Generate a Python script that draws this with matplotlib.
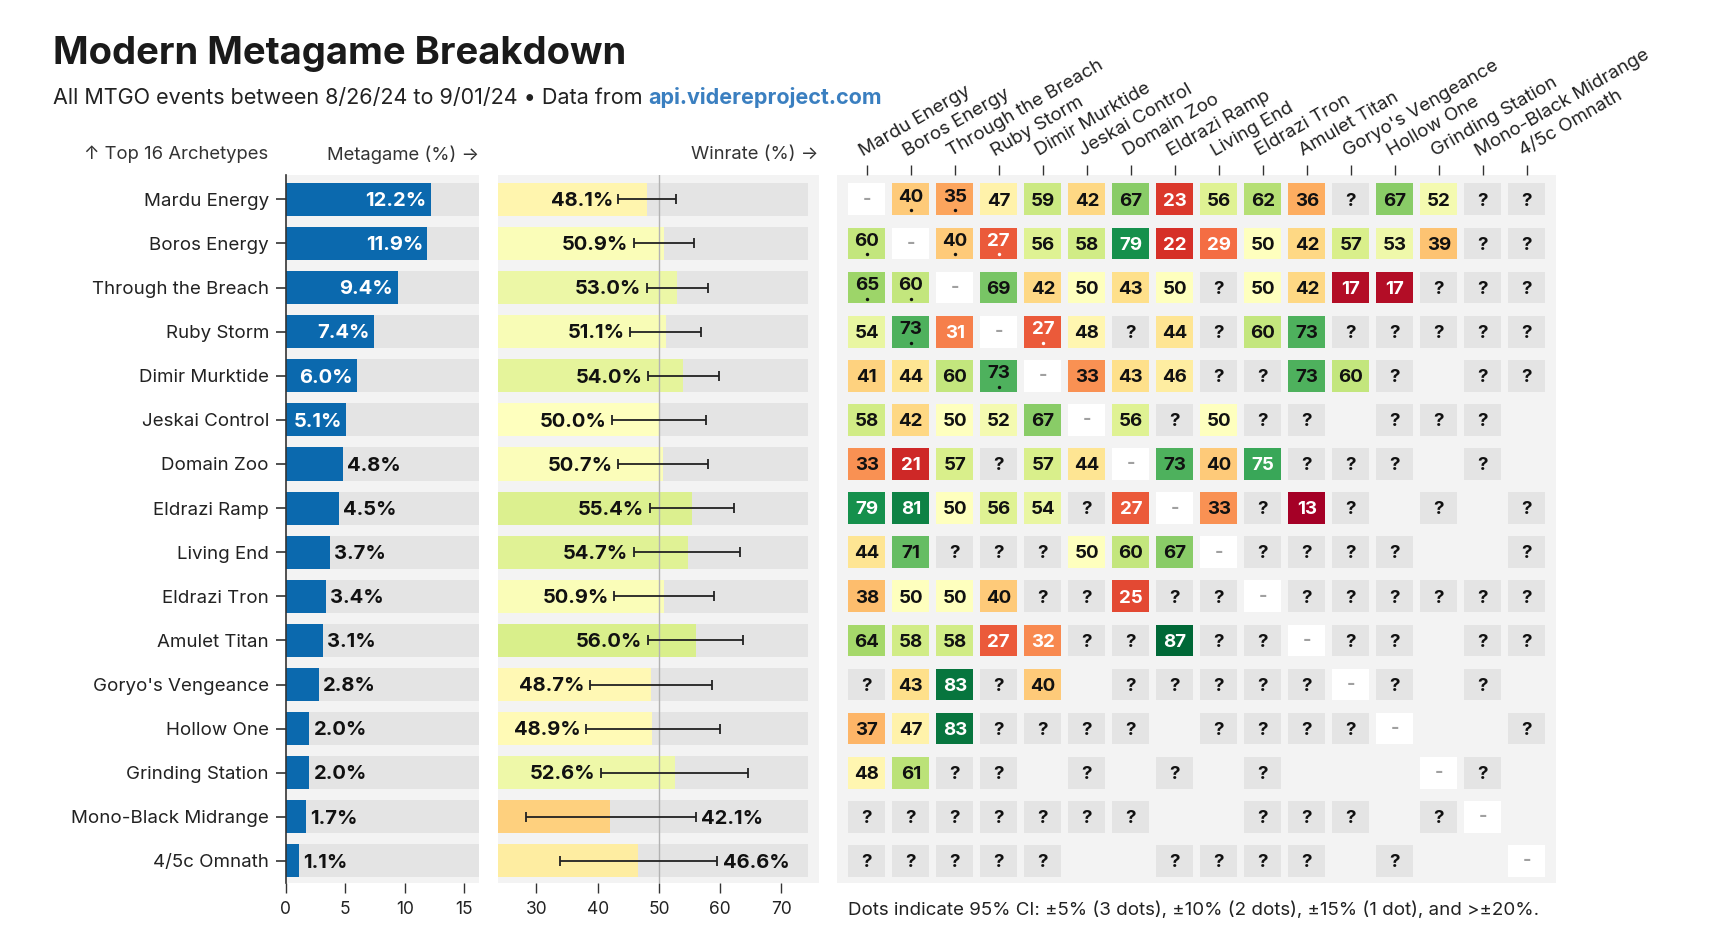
import matplotlib
matplotlib.use('Agg')
import matplotlib.pyplot as plt
import numpy as np
from matplotlib import colors
from matplotlib.transforms import blended_transform_factory

plt.rcParams['font.family'] = ['Inter', 'DejaVu Sans']

# ---------------- data ----------------
archetypes = ["Mardu Energy", "Boros Energy", "Through the Breach", "Ruby Storm",
              "Dimir Murktide", "Jeskai Control", "Domain Zoo", "Eldrazi Ramp",
              "Living End", "Eldrazi Tron", "Amulet Titan", "Goryo's Vengeance",
              "Hollow One", "Grinding Station", "Mono-Black Midrange", "4/5c Omnath"]
metagame = [12.2, 11.9, 9.4, 7.4, 6.0, 5.1, 4.8, 4.5, 3.7, 3.4, 3.1, 2.8, 2.0, 2.0, 1.7, 1.1]
winrate = [48.1, 50.9, 53.0, 51.1, 54.0, 50.0, 50.7, 55.4, 54.7, 50.9, 56.0, 48.7, 48.9, 52.6, 42.1, 46.6]
ci_low = [43.4, 45.9, 48.0, 45.3, 48.2, 42.3, 43.4, 48.5, 45.9, 42.7, 48.2, 38.8, 38.1, 40.5, 28.3, 33.9]
ci_high = [52.8, 55.7, 58.0, 56.9, 59.8, 57.7, 58.0, 62.2, 63.3, 59.0, 63.7, 58.7, 59.9, 64.6, 56.0, 59.5]

# matchup matrix: number = winrate, ? = unknown, - = mirror, _ = no games
matchups = [
    "- 40 35 47 59 42 67 23 56 62 36 ? 67 52 ? ?",
    "60 - 40 27 56 58 79 22 29 50 42 57 53 39 ? ?",
    "65 60 - 69 42 50 43 50 ? 50 42 17 17 ? ? ?",
    "54 73 31 - 27 48 ? 44 ? 60 73 ? ? ? ? ?",
    "41 44 60 73 - 33 43 46 ? ? 73 60 ? _ ? ?",
    "58 42 50 52 67 - 56 ? 50 ? ? _ ? ? ? _",
    "33 21 57 ? 57 44 - 73 40 75 ? ? ? _ ? _",
    "79 81 50 56 54 ? 27 - 33 ? 13 ? _ ? _ ?",
    "44 71 ? ? ? 50 60 67 - ? ? ? ? _ _ ?",
    "38 50 50 40 ? ? 25 ? ? - ? ? ? ? ? ?",
    "64 58 58 27 32 ? ? 87 ? ? - ? ? _ ? ?",
    "? 43 83 ? 40 _ ? ? ? ? ? - ? _ ? _",
    "37 47 83 ? ? ? ? _ ? ? ? ? - _ _ ?",
    "48 61 ? ? _ ? _ ? _ ? _ _ _ - ? _",
    "? ? ? ? ? ? ? _ _ ? ? ? _ ? - _",
    "? ? ? ? ? _ _ ? ? ? ? _ ? _ _ -",
]
# number of CI dots per cell
dots = [
    "0110000000000000",
    "1011000000000000",
    "1100000000000000",
    "0100100000000000",
    "0001000000000000",
] + ["0000000000000000"] * 11

meta_ticks = [0, 5, 10, 15]
win_ticks = [30, 40, 50, 60, 70]

# ---------------- layout helpers ----------------
W, H = 1566.0, 869.0  # design units
def fx(x): return x / W
def fy(y): return 1 - y / H

fig = plt.figure(figsize=(17.14, 9.52), dpi=100)
fig.patch.set_facecolor('white')

TOP, BOT = 160, 806
n = len(archetypes)
ypos = np.arange(n)
ylim = (n - 0.5, -0.546)
PANEL = '#f3f3f3'
TRACK = '#e4e4e4'
TXT = '#222222'
LDY = 0.04  # small downward nudge for bold numeric labels

def panel(x0, x1):
    ax = fig.add_axes([fx(x0), fy(BOT), fx(x1) - fx(x0), fy(TOP) - fy(BOT)])
    ax.set_facecolor(PANEL)
    ax.set_ylim(*ylim)
    for s in ax.spines.values():
        s.set_visible(False)
    return ax

# ---------------- metagame panel ----------------
ax1 = panel(261, 438)
m_xmax = (438 - 261) / 10.87
ax1.set_xlim(0, m_xmax)
ax1.barh(ypos, m_xmax, height=0.75, color=TRACK, zorder=1)
ax1.barh(ypos, metagame, height=0.75, color='#0b69ae', zorder=2)
for y, v in zip(ypos, metagame):
    if v >= 5:
        ax1.text(v - 0.35, y + LDY, f"{v:.1f}%", ha='right', va='center', color='white',
                 fontsize=14.5, fontweight='bold', zorder=3)
    else:
        ax1.text(v + 0.35, y + LDY, f"{v:.1f}%", ha='left', va='center', color='#111',
                 fontsize=14.5, fontweight='bold', zorder=3)
ax1.spines['left'].set_visible(True)
ax1.spines['left'].set_color('#333')
ax1.spines['left'].set_linewidth(1.2)
ax1.set_yticks(ypos)
ax1.set_yticklabels(archetypes, fontsize=13.5, color=TXT)
ax1.set_xticks(meta_ticks)
ax1.set_xticklabels([str(t) for t in meta_ticks], fontsize=12.5, color=TXT)
ax1.tick_params(axis='y', length=7, width=1.2, color='#333', pad=5)
ax1.tick_params(axis='x', length=7, width=1, color='#333', pad=6)

# ---------------- winrate panel ----------------
ax2 = panel(455, 748)
w_min = 23.75
w_max = (748 - 602) / 5.6 + 50
w_track = 74.3
ax2.set_xlim(w_min, w_max)
ax2.barh(ypos, w_track - w_min, left=w_min, height=0.75, color=TRACK, zorder=1)
wnorm = colors.Normalize(20, 80)
cmap = plt.get_cmap('RdYlGn')
ax2.barh(ypos, np.array(winrate) - w_min, left=w_min, height=0.75,
         color=[cmap(wnorm(v)) for v in winrate], zorder=2)
ax2.axvline(50, color='#b3b3b3', lw=1, zorder=3)
err = [np.array(winrate) - np.array(ci_low), np.array(ci_high) - np.array(winrate)]
ax2.errorbar(winrate, ypos, xerr=err, fmt='none', ecolor='#222', elinewidth=1.3,
             capsize=3.5, capthick=1.3, zorder=4)
for y, v, lo, hi in zip(ypos, winrate, ci_low, ci_high):
    if lo > 36:
        ax2.text(lo - 0.9, y + LDY, f"{v:.1f}%", ha='right', va='center', fontsize=14.5,
                 fontweight='bold', color='#111', zorder=5)
    else:
        ax2.text(hi + 0.9, y + LDY, f"{v:.1f}%", ha='left', va='center', fontsize=14.5,
                 fontweight='bold', color='#111', zorder=5)
ax2.set_yticks([])
ax2.set_xticks(win_ticks)
ax2.set_xticklabels([str(t) for t in win_ticks], fontsize=12.5, color=TXT)
ax2.tick_params(axis='x', length=7, width=1, color='#333', pad=6)

# ---------------- matchup matrix ----------------
ax3 = panel(765, 1422)
ax3.set_xlim(-0.67, n - 1 + 0.67)
mnorm = colors.Normalize(15, 85)
cw, ch = 0.84, 0.72
cells_x, cells_y, cells_c = [], [], []
for i, row in enumerate(matchups):
    toks = row.split()
    for j, tk in enumerate(toks):
        if tk == '_':
            continue
        if tk == '-':
            c = 'white'
        elif tk == '?':
            c = TRACK
        else:
            c = cmap(mnorm(float(tk)))
        cells_x.append(j); cells_y.append(i); cells_c.append(c)
ax3.bar(cells_x, ch, width=cw, bottom=np.array(cells_y) - ch / 2, color=cells_c, zorder=1)
for i, row in enumerate(matchups):
    toks = row.split()
    for j, tk in enumerate(toks):
        if tk == '_':
            continue
        if tk == '-':
            ax3.text(j, i, '-', ha='center', va='center', fontsize=13, fontweight='bold',
                     color='#a0a0a0', zorder=2)
        elif tk == '?':
            ax3.text(j, i + LDY, '?', ha='center', va='center', fontsize=13.5, fontweight='bold',
                     color='#111', zorder=2)
        else:
            v = float(tk)
            t = mnorm(v)
            tc = 'white' if (t < 0.25 or t > 0.85) else '#111'
            nd = int(dots[i][j])
            dy = -0.05 if nd else LDY
            ax3.text(j, i + dy, tk, ha='center', va='center', fontsize=13.5,
                     fontweight='bold', color=tc, zorder=2)
            if nd:
                offs = (np.arange(nd) - (nd - 1) / 2) * 0.12
                ax3.scatter(j + offs, [i + 0.25] * nd, s=6, color=tc, zorder=3, lw=0)
ax3.set_yticks([])
ax3.set_xticks(range(n))
ax3.set_xticklabels([])
ax3.xaxis.tick_top()
ax3.tick_params(axis='x', length=7, width=1, color='#333', top=True, bottom=False)
tr = blended_transform_factory(ax3.transData, ax3.transAxes)
for j, name in enumerate(archetypes):
    ax3.text(j - 0.05, 1.022, name, transform=tr, rotation=30, rotation_mode='anchor',
             ha='left', va='bottom', fontsize=13.5, color=TXT)

# ---------------- headers / titles ----------------
fig.text(fx(48), fy(58), "Modern Metagame Breakdown", fontsize=27.5, fontweight='bold',
         color='#1a1a1a', va='baseline', ha='left')
t1 = fig.text(fx(48), fy(95), "All MTGO events between 8/26/24 to 9/01/24 \u2022 Data from ",
              fontsize=15.5, color=TXT, va='baseline', ha='left')
fig.canvas.draw()
bb = t1.get_window_extent(renderer=fig.canvas.get_renderer())
fig.text(bb.x1 / fig.bbox.width, fy(95), "api.videreproject.com", fontsize=15.5,
         fontweight='bold', color='#3a7fc0', va='baseline', ha='left')

fig.text(fx(77), fy(141), "\u2191 Top 16 Archetypes", fontsize=13.3, color='#333',
         va='center', ha='left')
fig.text(fx(438), fy(141), "Metagame (%) \u2192", fontsize=13.3, color='#333',
         va='center', ha='right')
fig.text(fx(748), fy(141), "Winrate (%) \u2192", fontsize=13.3, color='#333',
         va='center', ha='right')
fig.text(fx(775), fy(831),
         "Dots indicate 95% CI: \u00b15% (3 dots), \u00b110% (2 dots), \u00b115% (1 dot), and >\u00b120%.",
         fontsize=13.5, color=TXT, va='center', ha='left')

fig.savefig('out.png', dpi=100, facecolor='white')
